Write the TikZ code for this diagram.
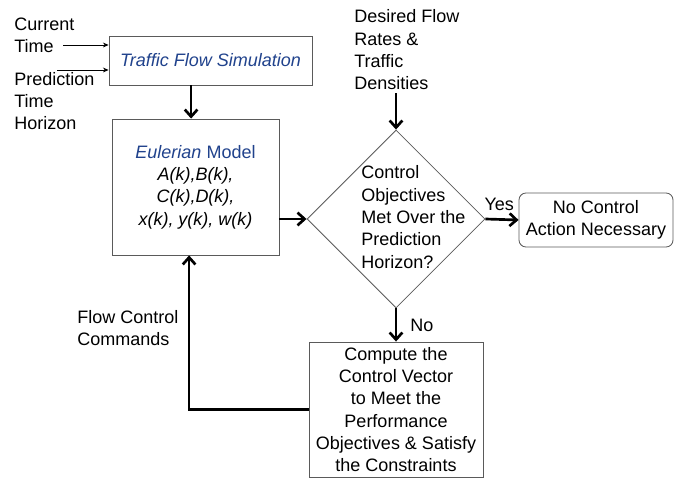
\documentclass[tikz,border=0pt]{standalone}
\usepackage{fontspec}
\setmainfont{Liberation Sans}
\usepackage{tikz}
\usetikzlibrary{arrows.meta,positioning,shapes.geometric}
\definecolor{simblue}{RGB}{32,66,140}
\definecolor{edgegray}{RGB}{90,90,90}

\begin{document}
\begin{tikzpicture}[
  x=0.025cm, y=-0.025cm,
  font=\fontsize{12.8}{15.9}\selectfont,
  box/.style={rectangle, draw=edgegray, line width=0.6pt, inner sep=0pt, align=center},
  decision/.style={diamond, draw=edgegray, line width=0.6pt, inner sep=0pt,
    minimum width=4.45cm, minimum height=4.45cm},
  label/.style={align=left, inner sep=0pt},
  arrow/.style={-{Straight Barb[length=5pt,width=9pt]}, line width=1.9pt},
  thinarrow/.style={-{Stealth[length=4pt,width=3.5pt]}, line width=0.5pt}
]
\useasboundingbox (0,0) rectangle (681,478);

% boxes
\node[box, minimum width=5.075cm, minimum height=1.225cm] (sim) at (210.5,60.5)
  {\color{simblue}\itshape Traffic Flow Simulation};
\node[box, minimum width=4.175cm, minimum height=3.4cm] (model) at (195.5,187)
  {{\color{simblue}\itshape Eulerian\upshape\ Model}\\
   \itshape A(k),B(k),\\ \itshape C(k),D(k),\\ \itshape x(k), y(k), w(k)};
\node[decision] (dia) at (396,219) {};
\node[label, anchor=west] (ask) at (361,217)
  {Control\\Objectives\\Met Over the\\Prediction\\Horizon?};
\node[box, rounded corners=5pt, minimum width=3.85cm, minimum height=1.35cm] (none) at (596,220)
  {No Control\\Action Necessary};
\node[box, minimum width=4.35cm, minimum height=3.375cm] (comp) at (396,409.5)
  {Compute the\\Control Vector\\to Meet the\\Performance\\Objectives \& Satisfy\\the Constraints};

% inputs
\node[label, anchor=west] (now) at (14,35) {Current\\Time};
\node[label, anchor=west] (hor) at (14,101) {Prediction\\Time\\Horizon};
\node[label, anchor=west] (goal) at (354,50) {Desired Flow\\Rates \&\\Traffic\\Densities};
\node[label, anchor=west] (cmd) at (77,328) {Flow Control\\Commands};
\coordinate (nowend) at (63,45);
\coordinate (horend) at (57,70);

% connectors
\draw[thinarrow] (nowend) -- (nowend -| sim.west);
\draw[thinarrow] (horend) -- (horend -| sim.west);
\draw[arrow] ([xshift=-0.11cm]model.north |- sim.south) -- ([xshift=-0.11cm]model.north);
\draw[arrow] (model.east |- dia.west) -- (dia.west);
\draw[arrow] (dia.north |- goal.south) ++(0,3) -- (dia.north);
\draw[arrow] (dia.east) -- node[above=2pt, xshift=-2pt] {Yes} (none.west);
\draw[arrow] (dia.south) -- node[right=6pt] {No} (comp.north);
\draw[arrow] (comp.west) -| ([xshift=-0.16cm]model.south);

\end{tikzpicture}
\end{document}
